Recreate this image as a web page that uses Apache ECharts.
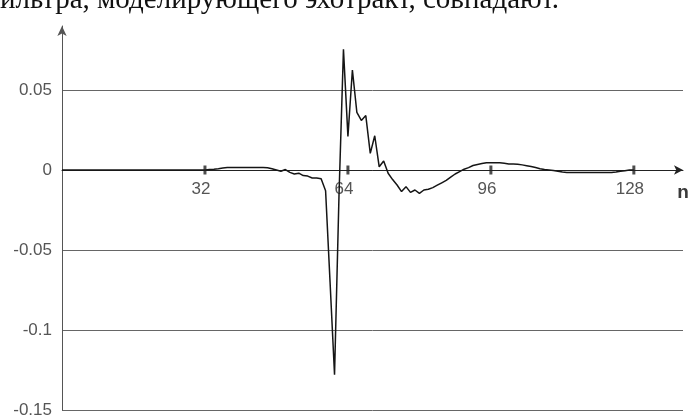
<!DOCTYPE html>
<html><head><meta charset="utf-8">
<script src="https://cdn.jsdelivr.net/npm/echarts@6/dist/echarts.min.js"></script>
<style>html,body{margin:0;padding:0;background:#fff}#c{width:691px;height:417px}</style>
</head><body><div id="c"></div>
<script>
const caption = 'ильтра, моделирующего эхотракт, совпадают.';
const xAxisName = 'n';
const xTicks = [32, 64, 96, 128];
const yTicks = [-0.15, -0.1, -0.05, 0, 0.05];
// sampled signal, index = n (0..128)
const signal = [
  0, 0, 0, 0, 0, 0, 0, 0,
  0, 0, 0, 0, 0, 0, 0, 0,
  0, 0, 0, 0, 0, 0, 0, 0,
  0, 0, 0, 0, 0, 0, 0, 0,
  0, 0.0003, 0.0005, 0.0008, 0.0012, 0.0015, 0.0015, 0.0015,
  0.0015, 0.0015, 0.0015, 0.0015, 0.0015, 0.0015, 0.0014, 0.0008,
  0, -0.0008, 0.0003, -0.0015, -0.0025, -0.002, -0.0035, -0.0038,
  -0.005, -0.005, -0.0055, -0.013, -0.07, -0.128, -0.016, 0.0754,
  0.021, 0.0625, 0.036, 0.031, 0.034, 0.0104, 0.0214, 0.002,
  0.0056, -0.002, -0.006, -0.0094, -0.0135, -0.0104, -0.014, -0.0125,
  -0.0146, -0.0125, -0.012, -0.011, -0.0095, -0.008, -0.0065, -0.0045,
  -0.0025, -0.001, 0.0005, 0.0015, 0.0028, 0.0035, 0.004, 0.0045,
  0.0046, 0.0046, 0.0045, 0.0042, 0.0038, 0.0037, 0.0036, 0.0032,
  0.0027, 0.0022, 0.0015, 0.0008, 0.0003, 0, -0.0003, -0.0008,
  -0.0013, -0.0015, -0.0015, -0.0015, -0.0015, -0.0015, -0.0015, -0.0015,
  -0.0015, -0.0015, -0.0015, -0.0015, -0.0012, -0.0008, -0.0004, 0,
  0
];

const chart = echarts.init(document.getElementById('c'));
const lineData = signal.map((v, i) => [i, v]);
const tickData = xTicks.map(v => [v, 0]);
const labelFont = { color: '#555', fontSize: 17, fontFamily: 'Liberation Sans' };

chart.setOption({
  animation: false,
  backgroundColor: '#fff',
  grid: { left: 62, right: 8, top: 26, bottom: 7, containLabel: false, outerBoundsMode: 'none' },
  xAxis: {
    type: 'value', min: 0, max: 139, interval: 32,
    position: 'bottom', offset: -240,
    axisLine: { show: true, onZero: false, symbol: ['none', 'arrow'], symbolSize: [7, 9],
      lineStyle: { color: '#222', width: 1 } },
    axisTick: { show: false },
    splitLine: { show: false },
    axisLabel: Object.assign({ showMinLabel: false, showMaxLabel: false, margin: 11,
      padding: [0, 8, 0, 0] }, labelFont)
  },
  yAxis: {
    type: 'value', min: -0.15, max: 0.09, interval: 0.05,
    axisLine: { show: true, symbol: ['none', 'arrow'], symbolSize: [7, 10],
      lineStyle: { color: '#555', width: 1 } },
    axisTick: { show: false },
    splitLine: { show: true, showMaxLine: false, lineStyle: { color: '#666', width: 1 } },
    axisLabel: Object.assign({ showMaxLabel: false, margin: 10,
      formatter: v => {
        const r = Math.round(v * 100) / 100;
        return yTicks.indexOf(r) >= 0 ? String(r) : '';
      } }, labelFont)
  },
  series: [
    { type: 'line', data: lineData, symbol: 'none', z: 3,
      lineStyle: { color: '#151515', width: 1.5 } },
    { type: 'scatter', data: tickData, symbol: 'rect', symbolSize: [3, 9], z: 4,
      itemStyle: { color: '#222' }, silent: true }
  ],
  graphic: [
    { type: 'text', x: 0, y: 0, z: 10,
      style: { text: caption, font: '29px "Liberation Serif"', fill: '#111',
        align: 'left', verticalAlign: 'middle' } },
    { type: 'text', x: 683, y: 193, z: 10,
      style: { text: xAxisName, font: 'bold 19px "Liberation Sans"', fill: '#3a3a3a',
        align: 'center', verticalAlign: 'middle' } }
  ]
});
</script></body></html>
